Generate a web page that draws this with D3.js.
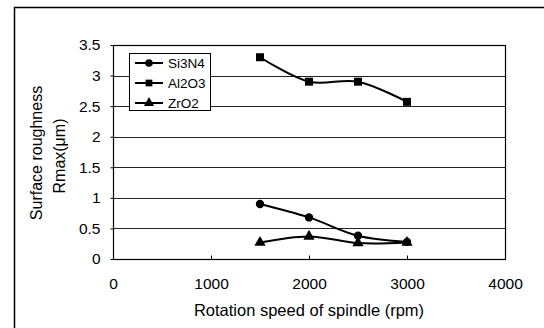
<!DOCTYPE html>
<html lang="en">
<head>
<meta charset="UTF-8" />
<title>Surface roughness vs rotation speed</title>
<style>
  body { margin: 0; padding: 0; background: #fff; }
  svg { display: block; font-family: "Liberation Sans", Arial, sans-serif; }
  .tick text { font-size: 15.5px; fill: #000; }
  .grid line { stroke: #222; stroke-width: 1; }
</style>
</head>
<body>
<svg id="chart" width="544" height="328"></svg>
<script src="https://d3js.org/d3.v7.min.js"></script>
<script>
  // data
  const speeds = [1500, 2000, 2500, 3000];
  const si3n4 = [0.9, 0.68, 0.38, 0.28];
  const al2o3 = [3.3, 2.9, 2.9, 2.57];
  const zro2 = [0.27, 0.37, 0.26, 0.27];
  const seriesNames = ["Si3N4", "Al2O3", "ZrO2"];
  const seriesShapes = [d3.symbolCircle, d3.symbolSquare, d3.symbolTriangle];
  const xTicks = [0, 1000, 2000, 3000, 4000];
  const yTicks = [0, 0.5, 1, 1.5, 2, 2.5, 3, 3.5];

  const svg = d3.select("#chart");
  const plotL = 113, plotR = 505, plotT = 45, plotB = 259;

  const x = d3.scaleLinear().domain([0, 4000]).range([plotL, plotR]);
  const y = d3.scaleLinear().domain([0, 3.5]).range([plotB, plotT]);

  // outer frame (top and left edges only)
  svg.append("path")
    .attr("d", "M14.5,328V7.5H544")
    .attr("fill", "none").attr("stroke", "#000").attr("stroke-width", 1.5);

  // gridlines
  svg.append("g").attr("class", "grid")
    .selectAll("line")
    .data(yTicks.filter(d => d > 0))
    .enter().append("line")
    .attr("x1", plotL).attr("x2", plotR)
    .attr("y1", d => Math.round(y(d)) + 0.5)
    .attr("y2", d => Math.round(y(d)) + 0.5);

  // plot border
  svg.append("rect")
    .attr("x", plotL + 0.5).attr("y", plotT + 0.5)
    .attr("width", plotR - plotL).attr("height", plotB - plotT)
    .attr("fill", "none").attr("stroke", "#000").attr("stroke-width", 1.2);

  const xAxis = svg.append("g")
    .attr("transform", `translate(0,${plotB + 0.5})`)
    .call(d3.axisBottom(x).tickValues(xTicks).tickSize(-4).tickPadding(18).tickFormat(d3.format("d")));
  xAxis.select(".domain").remove();
  xAxis.selectAll(".tick line").attr("stroke", "#000");

  const yAxis = svg.append("g")
    .attr("transform", `translate(${plotL + 0.5},0)`)
    .call(d3.axisLeft(y).tickValues(yTicks).tickSize(3).tickPadding(10).tickFormat(d => d));
  yAxis.select(".domain").remove();
  yAxis.selectAll(".tick line").attr("stroke", "#000");

  // axis titles
  svg.append("text")
    .attr("x", 309).attr("y", 316)
    .attr("text-anchor", "middle")
    .attr("font-size", 16.5)
    .text("Rotation speed of spindle (rpm)");

  const yTitle = svg.append("text")
    .attr("transform", "translate(0,153) rotate(-90)")
    .attr("text-anchor", "middle")
    .attr("font-size", 16);
  yTitle.append("tspan").attr("x", 0).attr("y", 42).text("Surface roughness");
  yTitle.append("tspan").attr("x", -3).attr("y", 65).text("Rmax(μm)");

  // series
  const series = [si3n4, al2o3, zro2].map((vals, i) => ({
    name: seriesNames[i],
    shape: seriesShapes[i],
    points: vals.map((v, j) => ({ s: speeds[j], v }))
  }));

  const line = d3.line()
    .x(d => x(d.s)).y(d => y(d.v))
    .curve(d3.curveCatmullRom.alpha(0.5));

  const g = svg.append("g");
  series.forEach(sr => {
    g.append("path")
      .attr("d", line(sr.points))
      .attr("fill", "none").attr("stroke", "#000").attr("stroke-width", 2);
    g.selectAll(null)
      .data(sr.points)
      .enter().append("path")
      .attr("transform", d => `translate(${x(d.s)},${y(d.v)})`)
      .attr("d", d3.symbol().type(sr.shape).size(sr.shape === d3.symbolSquare ? 64 : 55))
      .attr("fill", "#000");
  });

  // legend
  const legend = svg.append("g");
  legend.append("rect")
    .attr("x", 129.5).attr("y", 53.5).attr("width", 81).attr("height", 57)
    .attr("fill", "#fff").attr("stroke", "#000").attr("stroke-width", 1);
  series.forEach((sr, i) => {
    const ly = 63 + i * 20;
    legend.append("line")
      .attr("x1", 135).attr("x2", 163).attr("y1", ly).attr("y2", ly)
      .attr("stroke", "#000").attr("stroke-width", 2);
    legend.append("path")
      .attr("transform", `translate(149,${ly})`)
      .attr("d", d3.symbol().type(sr.shape).size(45))
      .attr("fill", "#000");
    legend.append("text")
      .attr("x", 168).attr("y", ly + 5)
      .attr("font-size", 13.5)
      .text(sr.name);
  });
</script>
</body>
</html>
